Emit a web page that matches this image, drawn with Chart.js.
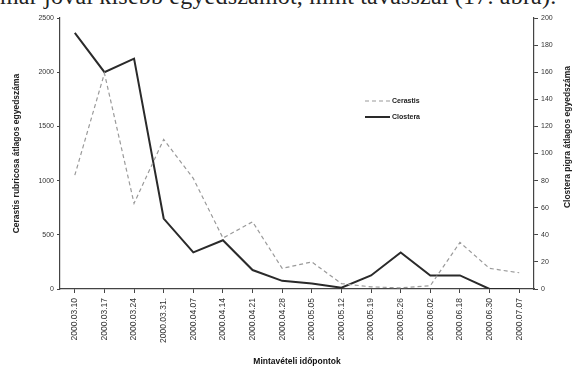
<!DOCTYPE html>
<html>
<head>
<meta charset="utf-8">
<script src="https://cdn.jsdelivr.net/npm/chart.js@4/dist/chart.umd.min.js"></script>
<style>
  body { margin: 0; background: #fff; }
  #wrap { position: relative; width: 577px; height: 367px; overflow: hidden; }
  #topline { position: absolute; left: 0px; top: -17px; font-family: "Liberation Serif", serif; font-size: 24px; color: #222; white-space: nowrap; letter-spacing: 0.2px; }
  canvas { position: absolute; left: 0; top: 0; }
</style>
</head>
<body>
<div id="wrap">
  <div id="topline">már jóval kisebb egyedszámot, mint tavasszal (17. ábra).</div>
  <canvas id="chart" width="577" height="367"></canvas>
</div>
<script>
var datumok = ['2000.03.10', '2000.03.17', '2000.03.24', '2000.03.31.', '2000.04.07', '2000.04.14',
    '2000.04.21', '2000.04.28', '2000.05.05', '2000.05.12', '2000.05.19', '2000.05.26',
    '2000.06.02', '2000.06.18', '2000.06.30', '2000.07.07'];
var cerastis = [1050, 1990, 790, 1380, 1020, 470, 620, 190, 250, 50, 20, 10, 30, 430, 190, 150];
var clostera = [189, 160, 170, 52, 27, 36, 14, 6, 4, 1, 10, 27, 10, 10, 0, 0];
var balTengely = [0, 500, 1000, 1500, 2000, 2500];
var jobbTengely = [0, 20, 40, 60, 80, 100, 120, 140, 160, 180, 200];

var kisBetu = { family: 'Liberation Sans', size: 7 };

// jelmagyarazat a grafikonon belul
var jelmagyarazat = {
    id: 'jelmagyarazat',
    afterDraw: function(chart) {
        var ctx = chart.ctx;
        ctx.save();
        chart.data.datasets.forEach(function(ds, i) {
            var y = 101 + i * 16;
            ctx.strokeStyle = ds.borderColor;
            ctx.lineWidth = ds.borderWidth;
            ctx.setLineDash(ds.borderDash || []);
            ctx.beginPath();
            ctx.moveTo(365, y);
            ctx.lineTo(390, y);
            ctx.stroke();
            ctx.setLineDash([]);
            ctx.fillStyle = '#222';
            ctx.font = 'bold 7px "Liberation Sans"';
            ctx.textBaseline = 'middle';
            ctx.fillText(ds.label, 392, y);
        });
        // jobb tengely cime (alulrol felfele)
        var area = chart.chartArea;
        ctx.translate(568, 137);
        ctx.rotate(-Math.PI / 2);
        ctx.textAlign = 'center';
        ctx.textBaseline = 'middle';
        ctx.font = 'bold 8.5px "Liberation Sans"';
        ctx.fillStyle = '#222';
        ctx.fillText('Clostera pigra átlagos egyedszáma', 0, 0);
        ctx.restore();
    }
};

var ctx = document.getElementById('chart').getContext('2d');
var grafikon = new Chart(ctx, {
    type: 'line',
    data: {
        labels: datumok,
        datasets: [{
            label: 'Cerastis',
            data: cerastis,
            yAxisID: 'bal',
            borderColor: '#9a9a9a',
            borderWidth: 1.2,
            borderDash: [4, 3],
            pointRadius: 0,
            tension: 0
        }, {
            label: 'Clostera',
            data: clostera,
            yAxisID: 'jobb',
            borderColor: '#2a2a2a',
            borderWidth: 2,
            pointRadius: 0,
            tension: 0
        }]
    },
    options: {
        responsive: false,
        animation: false,
        layout: { padding: { top: 18, left: 0, right: 0, bottom: 0 } },
        plugins: {
            legend: { display: false },
            tooltip: { enabled: false }
        },
        scales: {
            x: {
                offset: true,
                grid: { drawOnChartArea: false, tickLength: 4, color: '#444' },
                border: { color: '#444', width: 1.2 },
                ticks: { font: { family: 'Liberation Sans', size: 8.5 }, color: '#333', minRotation: 90, maxRotation: 90, autoSkip: false, padding: 5 },
                title: { display: true, text: 'Mintavételi időpontok', font: { family: 'Liberation Sans', size: 8.5, weight: 'bold' }, color: '#111', padding: { top: 2, bottom: 0 } },
                afterFit: function(scale) { scale.height = 78; }
            },
            bal: {
                position: 'left',
                min: 0,
                max: 2500,
                afterBuildTicks: function(scale) { scale.ticks = balTengely.map(function(v) { return { value: v }; }); },
                grid: { drawOnChartArea: false, tickLength: 3, color: '#444' },
                border: { color: '#444', width: 1.2 },
                ticks: { font: kisBetu, color: '#333', padding: 3, callback: function(v) { return String(v); } },
                title: { display: true, text: 'Cerastis rubricosa átlagos egyedszáma', font: { family: 'Liberation Sans', size: 8.5, weight: 'bold' }, color: '#222', padding: { top: 12, bottom: 0 } },
                afterFit: function(scale) { scale.width = 60; }
            },
            jobb: {
                position: 'right',
                min: 0,
                max: 200,
                afterBuildTicks: function(scale) { scale.ticks = jobbTengely.map(function(v) { return { value: v }; }); },
                grid: { drawOnChartArea: false, tickLength: 4, color: '#444' },
                border: { color: '#444', width: 1.2 },
                ticks: { font: kisBetu, color: '#333', padding: 3, callback: function(v) { return String(v); } },
                afterFit: function(scale) { scale.width = 43; }
            }
        }
    },
    plugins: [jelmagyarazat]
});
</script>
</body>
</html>
